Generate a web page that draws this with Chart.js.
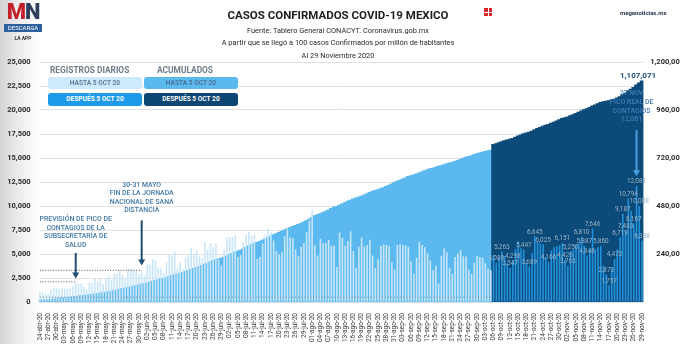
<!DOCTYPE html>
<html>
<head>
<meta charset="utf-8">
<script src="https://cdn.jsdelivr.net/npm/chart.js@4.4.1/dist/chart.umd.min.js"></script>
<style>
  html, body { margin: 0; padding: 0; overflow: hidden; }
  body {
    width: 680px; height: 344px; position: relative;
    font-family: Roboto, "Liberation Sans", Arial, sans-serif;
    background: linear-gradient(90deg, #d3d3d3 0px, #e9e9e9 16px, #ffffff 40px);
  }
  #marco { position: absolute; left: 0; top: 0; width: 684px; height: 344px; }
  .t { position: absolute; left: 0; width: 676px; text-align: center; color: #2a2a2a; white-space: nowrap; }
  #titulo { top: 8px; font-size: 11.5px; font-weight: 700; color: #1e1e1e; }
  .sub { font-size: 7.4px; }
  .cab { position: absolute; top: 65px; font-size: 8.4px; font-weight: 700; color: #6f7c89; white-space: nowrap; }
  .caja { position: absolute; width: 94px; border-radius: 3px; font-size: 6.6px; font-weight: 700;
          text-align: center; white-space: nowrap; }
  #logo { position: absolute; left: 4px; top: 1px; width: 38px; text-align: center; }
  #logo .mn { font-size: 22px; font-weight: 900; line-height: 22px; letter-spacing: -1px; }
  #logo .desc { background: #2c5f9c; color: #fff; font-size: 6px; line-height: 8px; margin-top: 1px; }
  #logo .app { font-size: 5px; color: #333; margin-top: 3px; font-weight: 700; }
  #icono { position: absolute; left: 484px; top: 8px; width: 8px; height: 8px;
           background:
             linear-gradient(#fff, #fff) 3.5px 0 / 1px 8px no-repeat,
             linear-gradient(#fff, #fff) 0 3.5px / 8px 1px no-repeat,
             #d8262c; }
  #sitio { position: absolute; left: 620px; top: 9px; font-size: 6px; font-weight: 700; color: #1d2b4a; }
</style>
</head>
<body>
<div id="marco"><canvas id="grafica" width="684" height="344"></canvas></div>

<div id="logo">
  <div class="mn"><span style="color:#c3202c">M</span><span style="color:#2d3f5c">N</span></div>
  <div class="desc">DESCARGA</div>
  <div class="app">LA APP</div>
</div>
<div id="icono"></div>
<div id="sitio">meganoticias.mx</div>

<div class="t" id="titulo">CASOS CONFIRMADOS COVID-19 MEXICO</div>
<div class="t sub" style="top:26px">Fuente: Tablero General CONACYT. Coronavirus.gob.mx</div>
<div class="t sub" style="top:38px">A partir que se llegó a 100 casos Confirmados por millón de habitantes</div>
<div class="t sub" style="top:51px">Al 29 Noviembre 2020</div>

<div class="cab" style="left:50px">REGISTROS DIARIOS</div>
<div class="cab" style="left:157px">ACUMULADOS</div>
<div class="caja" style="left:48px; top:77px; height:12px; line-height:12px; background:#cde9fb; color:#5f809d">HASTA 5 OCT 20</div>
<div class="caja" style="left:144px; top:77px; height:12px; line-height:12px; background:#5bb9ef; color:#4a7698">HASTA 5 OCT 20</div>
<div class="caja" style="left:48px; top:93px; height:13px; line-height:13px; background:#1d9be9; color:#ffffff">DESPUÉS 5 OCT 20</div>
<div class="caja" style="left:144px; top:93px; height:13px; line-height:13px; background:#0c4672; color:#ffffff">DESPUÉS 5 OCT 20</div>

<script>
// Fechas (una por día)
const fechas = [
  '24-abr-20','25-abr-20','26-abr-20','27-abr-20','28-abr-20','29-abr-20','30-abr-20',
  '01-may-20','02-may-20','03-may-20','04-may-20','05-may-20','06-may-20','07-may-20','08-may-20','09-may-20','10-may-20',
  '11-may-20','12-may-20','13-may-20','14-may-20','15-may-20','16-may-20','17-may-20','18-may-20','19-may-20','20-may-20',
  '21-may-20','22-may-20','23-may-20','24-may-20','25-may-20','26-may-20','27-may-20','28-may-20','29-may-20','30-may-20','31-may-20',
  '01-jun-20','02-jun-20','03-jun-20','04-jun-20','05-jun-20','06-jun-20','07-jun-20','08-jun-20','09-jun-20','10-jun-20',
  '11-jun-20','12-jun-20','13-jun-20','14-jun-20','15-jun-20','16-jun-20','17-jun-20','18-jun-20','19-jun-20','20-jun-20',
  '21-jun-20','22-jun-20','23-jun-20','24-jun-20','25-jun-20','26-jun-20','27-jun-20','28-jun-20','29-jun-20','30-jun-20',
  '01-jul-20','02-jul-20','03-jul-20','04-jul-20','05-jul-20','06-jul-20','07-jul-20','08-jul-20','09-jul-20','10-jul-20',
  '11-jul-20','12-jul-20','13-jul-20','14-jul-20','15-jul-20','16-jul-20','17-jul-20','18-jul-20','19-jul-20','20-jul-20',
  '21-jul-20','22-jul-20','23-jul-20','24-jul-20','25-jul-20','26-jul-20','27-jul-20','28-jul-20','29-jul-20','30-jul-20','31-jul-20',
  '01-ago-20','02-ago-20','03-ago-20','04-ago-20','05-ago-20','06-ago-20','07-ago-20','08-ago-20','09-ago-20','10-ago-20',
  '11-ago-20','12-ago-20','13-ago-20','14-ago-20','15-ago-20','16-ago-20','17-ago-20','18-ago-20','19-ago-20','20-ago-20',
  '21-ago-20','22-ago-20','23-ago-20','24-ago-20','25-ago-20','26-ago-20','27-ago-20','28-ago-20','29-ago-20','30-ago-20','31-ago-20',
  '01-sep-20','02-sep-20','03-sep-20','04-sep-20','05-sep-20','06-sep-20','07-sep-20','08-sep-20','09-sep-20','10-sep-20',
  '11-sep-20','12-sep-20','13-sep-20','14-sep-20','15-sep-20','16-sep-20','17-sep-20','18-sep-20','19-sep-20','20-sep-20',
  '21-sep-20','22-sep-20','23-sep-20','24-sep-20','25-sep-20','26-sep-20','27-sep-20','28-sep-20','29-sep-20','30-sep-20',
  '01-oct-20','02-oct-20','03-oct-20','04-oct-20','05-oct-20','06-oct-20','07-oct-20','08-oct-20','09-oct-20','10-oct-20',
  '11-oct-20','12-oct-20','13-oct-20','14-oct-20','15-oct-20','16-oct-20','17-oct-20','18-oct-20','19-oct-20','20-oct-20',
  '21-oct-20','22-oct-20','23-oct-20','24-oct-20','25-oct-20','26-oct-20','27-oct-20','28-oct-20','29-oct-20','30-oct-20','31-oct-20',
  '01-nov-20','02-nov-20','03-nov-20','04-nov-20','05-nov-20','06-nov-20','07-nov-20','08-nov-20','09-nov-20','10-nov-20',
  '11-nov-20','12-nov-20','13-nov-20','14-nov-20','15-nov-20','16-nov-20','17-nov-20','18-nov-20','19-nov-20','20-nov-20',
  '21-nov-20','22-nov-20','23-nov-20','24-nov-20','25-nov-20','26-nov-20','27-nov-20','28-nov-20','29-nov-20'
];

// Registros diarios hasta el 5 oct (24 abr - 5 oct)
const diariosHasta = [
  1089, 970, 835, 852, 1223, 1425, 1515,
  1349, 1434, 1383, 1349, 1434, 1609, 1982, 1906, 1938, 1562, 1305, 1997, 1992, 2409, 2112, 2437, 1887, 2414, 2713, 2248,
  2973, 2960, 3329, 2764, 2485, 3455, 3463, 3377, 3227, 2885, 3152,
  2771, 3891, 3912, 4442, 4346, 3593, 3484, 2999, 4199, 4883, 4790, 5222, 3494, 4147, 3427, 4599, 4930, 5662, 5030, 5343,
  4717, 4577, 6288, 5441, 6104, 5692, 6104, 4410, 3805, 5432,
  6741, 6740, 6740, 6914, 4683, 4902, 6258, 6995, 7280, 6891, 7000, 4482, 4685, 6094, 7051, 7615, 7257, 6406, 5311, 4973,
  5172, 6859, 7573, 6751, 6637, 5480, 4767, 5752, 6148, 7258, 8458,
  9556, 5886, 4853, 6590, 6139, 6148, 6495, 5891, 5858, 3651, 7208, 6686, 5858, 6345, 7371, 5310, 3571, 5758, 6682, 5792,
  5928, 6482, 4844, 3541, 4448, 5824, 6000, 5941, 5824, 4129, 3351,
  5937, 6026, 5928, 5937, 5743, 4253, 2917, 4613, 6253, 5935, 5735, 5033, 4329, 3335, 3771, 1928, 4771, 5573, 5174, 3542,
  2917, 4683, 5057, 5408, 4747, 4747, 3352, 2919, 4085, 4789,
  4690, 4620, 4040, 3460, 3300
];

// Registros diarios después del 5 oct (6 oct - 29 nov)
const diariosDespues = [
  4900, 4089, 4700, 5263, 4800, 4000, 3547, 4298, 5500, 6300, 5600, 5447, 4100, 3689, 5100, 6845, 6300, 6100, 6025, 4700,
  4166, 5400, 5700, 5800, 5900, 6151, 4426, 3763, 5250, 5500, 5900, 6100, 6810, 5887, 4848, 5500, 7646, 5500, 5700, 5860,
  3800, 2873, 1757, 3600, 4472, 5500, 6719, 9187, 7483, 10794, 9500, 8167, 12081, 10008, 6388
];

// Acumulados (miles de casos)
const acumHastaMiles = [
  11.6, 12.9, 13.8, 14.7, 16.0, 17.4, 19.2,
  20.7, 22.1, 23.5, 24.9, 26.0, 27.6, 29.6, 31.5, 33.5, 35.0, 36.3, 38.3, 40.2, 42.6, 45.0, 47.1, 49.2, 51.6, 54.3, 56.6,
  59.6, 62.5, 65.9, 68.6, 71.1, 74.6, 78.0, 81.4, 84.6, 87.5, 90.7,
  93.4, 97.3, 101.2, 105.7, 110.0, 113.6, 117.1, 120.1, 124.3, 129.2, 133.9, 139.2, 142.7, 146.8, 150.3, 154.9, 159.8, 165.5,
  170.5, 175.2, 180.5, 185.1, 191.4, 196.8, 202.9, 208.4, 212.8, 216.9, 220.7, 226.1,
  231.8, 238.5, 245.3, 252.2, 256.8, 261.8, 268.0, 275.0, 282.3, 289.2, 295.3, 299.8, 304.4, 311.5, 317.6, 324.0, 331.3,
  338.9, 344.2, 349.4, 356.3, 362.3, 368.0, 373.5, 379.5, 385.0, 390.5, 395.5, 402.7, 408.4, 416.2,
  424.6, 434.2, 439.0, 443.8, 449.9, 456.1, 462.7, 469.4, 475.9, 480.3, 485.8, 492.5, 498.4, 505.8, 511.4, 517.7, 522.1,
  525.7, 531.2, 537.0, 543.8, 549.7, 556.2, 560.2, 563.7, 568.6, 573.9, 579.9, 586.5, 592.4, 599.6,
  606.0, 610.9, 616.9, 623.1, 629.4, 634.0, 637.5, 642.9, 647.5, 652.4, 658.3, 663.9, 668.4, 671.7, 676.5, 680.9, 684.1,
  688.9, 694.1, 697.7, 700.6, 705.3, 710.0, 715.5, 720.9, 726.4, 730.3, 733.7, 738.2, 743.2,
  747.0, 751.5, 755.5, 758.5, 761.7
];
const acumDespuesMiles = [
  789.8, 794.0, 798.7, 804.0, 808.8, 812.8, 816.3, 820.6, 826.1, 832.4, 838.0, 843.5, 847.6, 851.2, 856.3, 863.2, 869.5,
  875.6, 881.6, 886.3, 890.5, 895.9, 901.6, 907.4, 913.3, 919.5, 924.0, 928.0, 933.3, 938.9, 944.9, 951.1, 958.0, 964.0,
  969.0, 974.6, 982.3, 987.9, 993.7, 999.7, 1003.6, 1006.6, 1008.4, 1012.1, 1016.7, 1022.3, 1029.1, 1038.4, 1046.0,
  1056.9, 1066.5, 1074.8, 1087.0, 1097.1, 1107.1
];
const totalAcumulado = 1107071;

// Días después del 5 oct que llevan etiqueta de valor
const fechasEtiquetadas = [
  '07-oct-20','09-oct-20','12-oct-20','13-oct-20','17-oct-20','19-oct-20','21-oct-20','24-oct-20','26-oct-20',
  '31-oct-20','01-nov-20','02-nov-20','03-nov-20','07-nov-20','08-nov-20','09-nov-20','11-nov-20','14-nov-20',
  '16-nov-20','17-nov-20','19-nov-20','21-nov-20','22-nov-20','23-nov-20','24-nov-20','26-nov-20','27-nov-20',
  '28-nov-20','29-nov-20'
];

// Líneas punteadas de referencia
const nivelPrevision = 2100, fechaPrevision = '07-may-20';
const nivelJornada = 3300, fechaJornada = '31-may-20';
const nivelBase = 500;

const n = fechas.length;
const nH = diariosHasta.length;
const nD = diariosDespues.length;
const vacios = k => Array(k).fill(null);

function tramo(valor, desde, hasta) {
  const d = vacios(n);
  d[desde] = valor;
  d[hasta] = valor;
  return d;
}

const notas = [
  { lineas: ['PREVISIÓN DE PICO DE', 'CONTAGIOS DE LA', 'SUBSECRETARÍA DE', 'SALUD'], fecha: fechaPrevision,
    texto: 8600, desde: 5100, hasta: 2450, color: '#3f78a4', flecha: '#1d4d75' },
  { lineas: ['30-31 MAYO', 'FIN DE LA JORNADA', 'NACIONAL DE SANA', 'DISTANCIA'], fecha: fechaJornada,
    texto: 12200, desde: 8500, hasta: 3800, color: '#3f78a4', flecha: '#1d4d75' },
  { lineas: ['27 NOV', 'PICO REAL DE', 'CONTAGIOS', '12,081'], fecha: '27-nov-20',
    texto: 21700, desde: 17900, hasta: 13100, color: '#3f7db5', flecha: '#4a9ee0', dx: -5 }
];

const anotaciones = {
  id: 'anotaciones',
  afterDatasetsDraw(chart) {
    const { ctx, scales: { x, y, yDer } } = chart;
    ctx.save();

    // etiquetas de los días después del 5 oct
    ctx.font = '6.4px Roboto';
    ctx.fillStyle = '#9bb3c8';
    ctx.textAlign = 'center';
    ctx.textBaseline = 'bottom';
    fechasEtiquetadas.forEach(f => {
      const i = fechas.indexOf(f);
      const v = diariosDespues[i - nH];
      ctx.fillText(v.toLocaleString('en-US'), x.getPixelForValue(i), y.getPixelForValue(v) - 1);
    });

    // notas con flecha
    notas.forEach(nt => {
      const i = fechas.indexOf(nt.fecha);
      const px = x.getPixelForValue(i);
      ctx.font = '500 6.9px Roboto';
      ctx.fillStyle = nt.color;
      ctx.textBaseline = 'middle';
      const y0 = y.getPixelForValue(nt.texto);
      nt.lineas.forEach((l, k) => ctx.fillText(l, px + (nt.dx || 0), y0 + k * 8.6));

      const y1 = y.getPixelForValue(nt.desde);
      const y2 = y.getPixelForValue(nt.hasta);
      ctx.strokeStyle = nt.flecha;
      ctx.fillStyle = nt.flecha;
      ctx.lineWidth = 2;
      ctx.beginPath();
      ctx.moveTo(px, y1);
      ctx.lineTo(px, y2 - 5);
      ctx.stroke();
      ctx.beginPath();
      ctx.moveTo(px - 3.5, y2 - 6);
      ctx.lineTo(px + 3.5, y2 - 6);
      ctx.lineTo(px, y2);
      ctx.closePath();
      ctx.fill();
    });

    // total acumulado
    ctx.font = 'bold 8px Roboto';
    ctx.fillStyle = '#1d4f7c';
    ctx.textAlign = 'center';
    ctx.textBaseline = 'bottom';
    ctx.fillText(totalAcumulado.toLocaleString('en-US'),
      x.getPixelForValue(n - 1) - 4, yDer.getPixelForValue(acumDespuesMiles[nD - 1]) - 1);

    ctx.restore();
  }
};

const barraComun = { categoryPercentage: 1, grouped: false, borderWidth: 0 };

new Chart(document.getElementById('grafica'), {
  type: 'bar',
  data: {
    labels: fechas,
    datasets: [
      { ...barraComun, label: 'Acumulados hasta 5 oct', data: [...acumHastaMiles, ...vacios(nD)],
        yAxisID: 'yDer', backgroundColor: '#5bb9ef', barPercentage: 1.7, order: 4 },
      { ...barraComun, label: 'Acumulados después 5 oct', data: [...vacios(nH), ...acumDespuesMiles],
        yAxisID: 'yDer', backgroundColor: '#0c4a79', barPercentage: 1.7, order: 3 },
      { ...barraComun, label: 'Diarios hasta 5 oct', data: [...diariosHasta, ...vacios(nD)],
        yAxisID: 'y', backgroundColor: '#c8e6f9', barPercentage: 0.58, order: 2 },
      { ...barraComun, label: 'Diarios después 5 oct', data: [...vacios(nH), ...diariosDespues],
        yAxisID: 'y', backgroundColor: '#2391da', barPercentage: 0.58, order: 2 },
      { type: 'line', label: 'prevision', data: tramo(nivelPrevision, 0, fechas.indexOf(fechaPrevision)),
        yAxisID: 'y', borderColor: '#555', borderWidth: 1, borderDash: [1, 1.6], pointRadius: 0, spanGaps: true, order: 0 },
      { type: 'line', label: 'jornada', data: tramo(nivelJornada, 0, fechas.indexOf(fechaJornada)),
        yAxisID: 'y', borderColor: '#555', borderWidth: 1, borderDash: [1, 1.6], pointRadius: 0, spanGaps: true, order: 0 },
      { type: 'line', label: 'base', data: tramo(nivelBase, 0, nH - 1),
        yAxisID: 'y', borderColor: '#8eaabf', borderWidth: 1.2, borderDash: [1.2, 1.8], pointRadius: 0, spanGaps: true, order: 0 }
    ]
  },
  options: {
    responsive: false,
    animation: false,
    devicePixelRatio: 1,
    layout: { padding: { top: 62, left: 0, right: 0, bottom: 0 } },
    plugins: { legend: { display: false }, tooltip: { enabled: false } },
    scales: {
      x: {
        offset: true,
        grid: { display: false },
        border: { display: false },
        ticks: {
          autoSkip: false, minRotation: 90, maxRotation: 90, padding: 3,
          color: '#3a3a3a', font: { size: 6.5, family: 'Roboto' },
          callback: (v, i) => (i % 3 === 0 ? fechas[i] : '')
        },
        afterFit: s => { s.height = 42; }
      },
      y: {
        position: 'left', min: 0, max: 25000,
        grid: { color: '#e2e2e2', drawTicks: false },
        border: { display: false },
        ticks: {
          stepSize: 2500, padding: 8, color: '#2b2b2b',
          font: { size: 7.5, weight: 'bold', family: 'Roboto' },
          callback: v => v.toLocaleString('en-US')
        },
        afterFit: s => { s.width = 38.6; }
      },
      yDer: {
        position: 'right', min: 0, max: 1200,
        grid: { display: false, drawTicks: false },
        border: { display: false },
        ticks: {
          stepSize: 240, padding: 5, crossAlign: 'far', color: '#2b2b2b',
          font: { size: 7.5, weight: 'bold', family: 'Roboto' },
          callback: v => (v * 1000).toLocaleString('en-US')
        },
        afterFit: s => { s.width = 40.6; }
      }
    }
  },
  plugins: [anotaciones]
});
</script>
</body>
</html>
